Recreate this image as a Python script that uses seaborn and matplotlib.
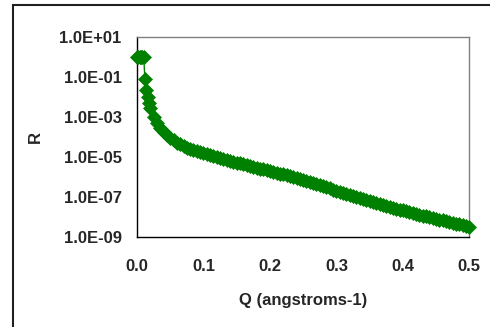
import numpy as np
import pandas as pd
import matplotlib
matplotlib.use("Agg")
import matplotlib.pyplot as plt
from matplotlib.ticker import FixedLocator, FuncFormatter, NullLocator
from matplotlib.patches import Rectangle
import seaborn as sns

# Q values (angstroms^-1)
q_values = [
    0.000, 0.002, 0.004, 0.006, 0.008, 0.010, 0.012, 0.014, 0.016, 0.018, 0.020,
    0.025, 0.030, 0.035, 0.040, 0.045, 0.050, 0.055, 0.060, 0.065, 0.070,
    0.075, 0.080, 0.085, 0.090, 0.095, 0.100, 0.105, 0.110, 0.115, 0.120,
    0.125, 0.130, 0.135, 0.140, 0.145, 0.150, 0.155, 0.160, 0.165, 0.170,
    0.175, 0.180, 0.185, 0.190, 0.195, 0.200, 0.205, 0.210, 0.215, 0.220,
    0.225, 0.230, 0.235, 0.240, 0.245, 0.250, 0.255, 0.260, 0.265, 0.270,
    0.275, 0.280, 0.285, 0.290, 0.295, 0.300, 0.305, 0.310, 0.315, 0.320,
    0.325, 0.330, 0.335, 0.340, 0.345, 0.350, 0.355, 0.360, 0.365, 0.370,
    0.375, 0.380, 0.385, 0.390, 0.395, 0.400, 0.405, 0.410, 0.415, 0.420,
    0.425, 0.430, 0.435, 0.440, 0.445, 0.450, 0.455, 0.460, 0.465, 0.470,
    0.475, 0.480, 0.485, 0.490, 0.495, 0.500,
]

# log10 of reflectivity R
r_log10 = [
    0.00, 0.00, 0.00, 0.00, 0.00, 0.00, -1.12, -1.65, -2.00, -2.30, -2.55,
    -3.00, -3.33, -3.57, -3.76, -3.92, -4.06, -4.18, -4.29, -4.38, -4.46,
    -4.54, -4.61, -4.67, -4.73, -4.78, -4.83, -4.88, -4.92, -4.97, -5.01,
    -5.06, -5.10, -5.15, -5.20, -5.24, -5.29, -5.33, -5.38, -5.42, -5.46,
    -5.50, -5.54, -5.59, -5.63, -5.67, -5.71, -5.75, -5.79, -5.83, -5.87,
    -5.91, -5.95, -6.00, -6.05, -6.10, -6.15, -6.21, -6.26, -6.31, -6.36,
    -6.42, -6.47, -6.52, -6.57, -6.63, -6.68, -6.73, -6.78, -6.84, -6.89,
    -6.94, -6.99, -7.05, -7.10, -7.15, -7.20, -7.26, -7.31, -7.36, -7.41,
    -7.46, -7.50, -7.54, -7.58, -7.63, -7.67, -7.71, -7.75, -7.80, -7.84,
    -7.88, -7.93, -7.97, -8.01, -8.05, -8.09, -8.13, -8.17, -8.21, -8.25,
    -8.29, -8.33, -8.37, -8.41, -8.45, -8.49,
]

x_ticks = [0.0, 0.1, 0.2, 0.3, 0.4, 0.5]
y_ticks = [1e1, 1e-1, 1e-3, 1e-5, 1e-7, 1e-9]
x_label = "Q (angstroms-1)"
y_label = "R"

df = pd.DataFrame({"Q": q_values, "R": [10.0 ** v for v in r_log10]})

sns.set_style("white")
plt.rcParams["font.family"] = ["Liberation Sans", "DejaVu Sans"]
plt.rcParams["font.weight"] = "bold"

fig = plt.figure(figsize=(4.9, 3.27), dpi=100)
L, R_, T, B = 137.0, 469.3, 36.7, 237.0
ax = fig.add_axes([L / 490, 1 - B / 327, (R_ - L) / 490, (B - T) / 327])

green = "#008000"
sns.lineplot(data=df, x="Q", y="R", ax=ax, color=green, linewidth=1.0,
             marker="D", markersize=7.5, markeredgecolor=green,
             markerfacecolor=green, markeredgewidth=0.5, clip_on=False,
             zorder=5)

ax.set_yscale("log")
ax.set_xlim(0.0, 0.5)
ax.set_ylim(1e-9, 1e1)
ax.xaxis.set_major_locator(FixedLocator(x_ticks))
ax.yaxis.set_major_locator(FixedLocator(y_ticks))
ax.yaxis.set_minor_locator(NullLocator())
ax.xaxis.set_minor_locator(NullLocator())
ax.xaxis.set_major_formatter(FuncFormatter(lambda v, p: f"{v:.1f}"))
ax.yaxis.set_major_formatter(FuncFormatter(lambda v, p: f"{v:.1E}"))

ax.tick_params(axis="both", which="major", direction="out", length=3.6,
               width=1, color="black", labelsize=12)
ax.tick_params(axis="y", pad=7.5)
ax.tick_params(axis="x", pad=12.5)
for lab in ax.get_xticklabels() + ax.get_yticklabels():
    lab.set_fontweight("bold")

ax.spines["left"].set_color("black")
ax.spines["bottom"].set_color("black")
ax.spines["top"].set_color("#808080")
ax.spines["right"].set_color("#808080")
for s in ax.spines.values():
    s.set_linewidth(1.0)

ax.set_xlabel(x_label, fontsize=12, fontweight="bold", va="center")
ax.set_ylabel(y_label, fontsize=12, fontweight="bold", va="center")
ax.xaxis.set_label_coords(0.5, (B - 300) / (B - T))
ax.yaxis.set_label_coords((35 - L) / (R_ - L), 0.5)

# figure border (left and top edges visible)
fig.patches.append(Rectangle((12.5 / 490, -0.2), 1.5, 1.2 - 4.5 / 327,
                             transform=fig.transFigure, fill=False,
                             edgecolor="#202020", linewidth=1.5))

fig.savefig("out.png", dpi=100)
